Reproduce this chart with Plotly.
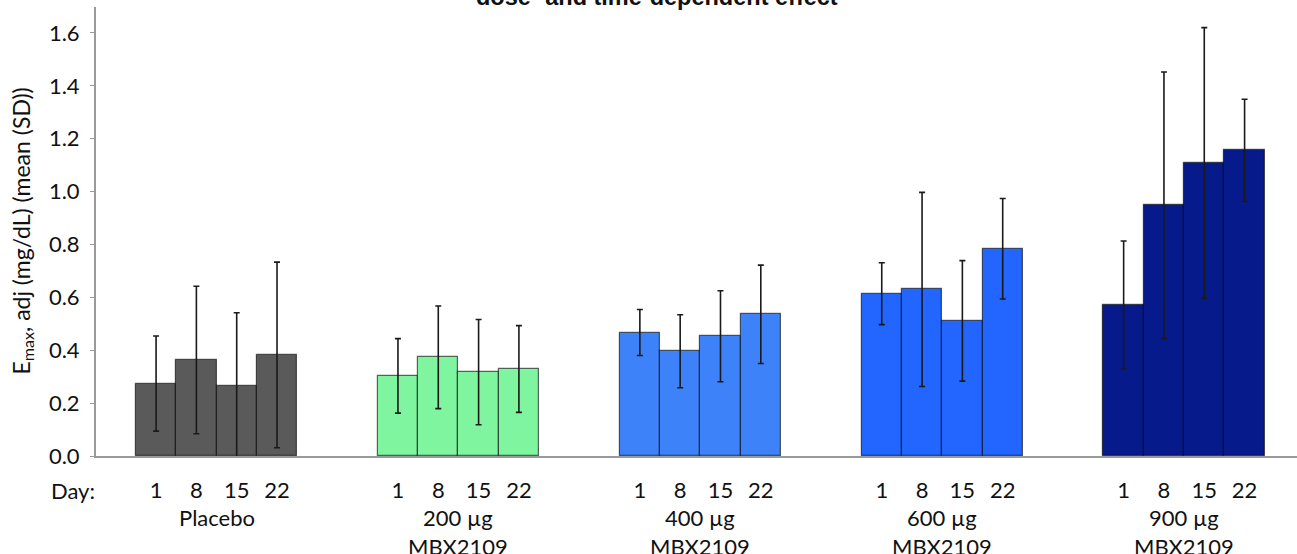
import plotly.graph_objects as go

# ---- data ----
groups = ["Placebo", "200 µg<br>MBX2109", "400 µg<br>MBX2109", "600 µg<br>MBX2109", "900 µg<br>MBX2109"]
days = ["1", "8", "15", "22"]

placebo_mean = [0.274, 0.363, 0.264, 0.382]
placebo_sd = [0.180, 0.279, 0.278, 0.351]
mbx200_mean = [0.303, 0.373, 0.317, 0.329]
mbx200_sd = [0.141, 0.194, 0.199, 0.164]
mbx400_mean = [0.467, 0.396, 0.453, 0.536]
mbx400_sd = [0.087, 0.138, 0.172, 0.186]
mbx600_mean = [0.614, 0.630, 0.511, 0.784]
mbx600_sd = [0.117, 0.367, 0.228, 0.190]
mbx900_mean = [0.571, 0.948, 1.108, 1.156]
mbx900_sd = [0.242, 0.504, 0.512, 0.193]

means = [placebo_mean, mbx200_mean, mbx400_mean, mbx600_mean, mbx900_mean]
sds = [placebo_sd, mbx200_sd, mbx400_sd, mbx600_sd, mbx900_sd]
colors = ["#5a5a5a", "#80f5a0", "#3d82f8", "#2266ff", "#061a8c"]

y_ticks = [0.0, 0.2, 0.4, 0.6, 0.8, 1.0, 1.2, 1.4, 1.6]

FONT = "Lato"
FS = 22
GROUP_STEP = 6  # 4 bars + 2 empty slots

fig = go.Figure()
tickvals, ticktext = [], []
for g, (m, s, c) in enumerate(zip(means, sds, colors)):
    xs = [g * GROUP_STEP + d for d in range(len(days))]
    tickvals += xs
    ticktext += days
    fig.add_trace(go.Bar(
        x=xs, y=m, width=1,
        marker=dict(color=c, line=dict(color="rgba(0,0,0,0.6)", width=1.2)),
        error_y=dict(type="data", array=s, visible=True, color="#1a1a1a",
                     thickness=1.6, width=3),
        showlegend=False,
    ))

annotations = []
for g, name in enumerate(groups):
    annotations.append(dict(
        x=g * GROUP_STEP + 1.5, xref="x", y=0, yref="paper",
        yanchor="top", xanchor="center", yshift=-46,
        text=name, showarrow=False,
        font=dict(family=FONT, size=FS, color="#111"),
    ))
annotations.append(dict(
    x=-0.039, xref="paper", y=0, yref="paper", xanchor="left", yanchor="top",
    yshift=-19, text="Day:", showarrow=False,
    font=dict(family=FONT, size=FS, color="#111"),
))
annotations.append(dict(
    x=-0.0616, xref="paper", y=0.5, yref="paper", xanchor="center", yanchor="middle",
    textangle=-90, text="E<sub>max</sub>, adj (mg/dL) (mean (SD))", showarrow=False,
    font=dict(family=FONT, size=23, color="#111"),
))
annotations.append(dict(
    x=0.467, xref="paper", y=1, yref="paper", xanchor="center", yanchor="middle",
    yshift=10, text="<b>dose- and time-dependent effect</b>", showarrow=False,
    font=dict(family="Liberation Sans", size=23.5, color="#111"),
))

fig.update_layout(
    width=1297, height=554,
    margin=dict(l=96, r=0, t=7, b=98),
    plot_bgcolor="white", paper_bgcolor="white",
    bargap=0,
    font=dict(family=FONT, size=FS, color="#111"),
    annotations=annotations,
    xaxis=dict(
        range=[-1.49, 28.3], tickvals=tickvals, ticktext=ticktext,
        showgrid=False, zeroline=False, showline=True, linecolor="#9a9a9a",
        linewidth=2, ticks="", ticklabelstandoff=14, automargin=False,
        tickfont=dict(family=FONT, size=FS, color="#111"),
    ),
    yaxis=dict(
        range=[0, 1.698], tickvals=y_ticks, ticktext=[f"{v:.1f}" for v in y_ticks],
        showgrid=False, zeroline=False, showline=True, linecolor="#9a9a9a",
        linewidth=2, ticks="outside", ticklen=4, tickcolor="#9a9a9a",
        ticklabelstandoff=6, automargin=False,
        tickfont=dict(family=FONT, size=FS, color="#111"),
    ),
)

fig.write_html("out.html", config={"displayModeBar": False},
               post_script="document.body.style.margin='0';")
